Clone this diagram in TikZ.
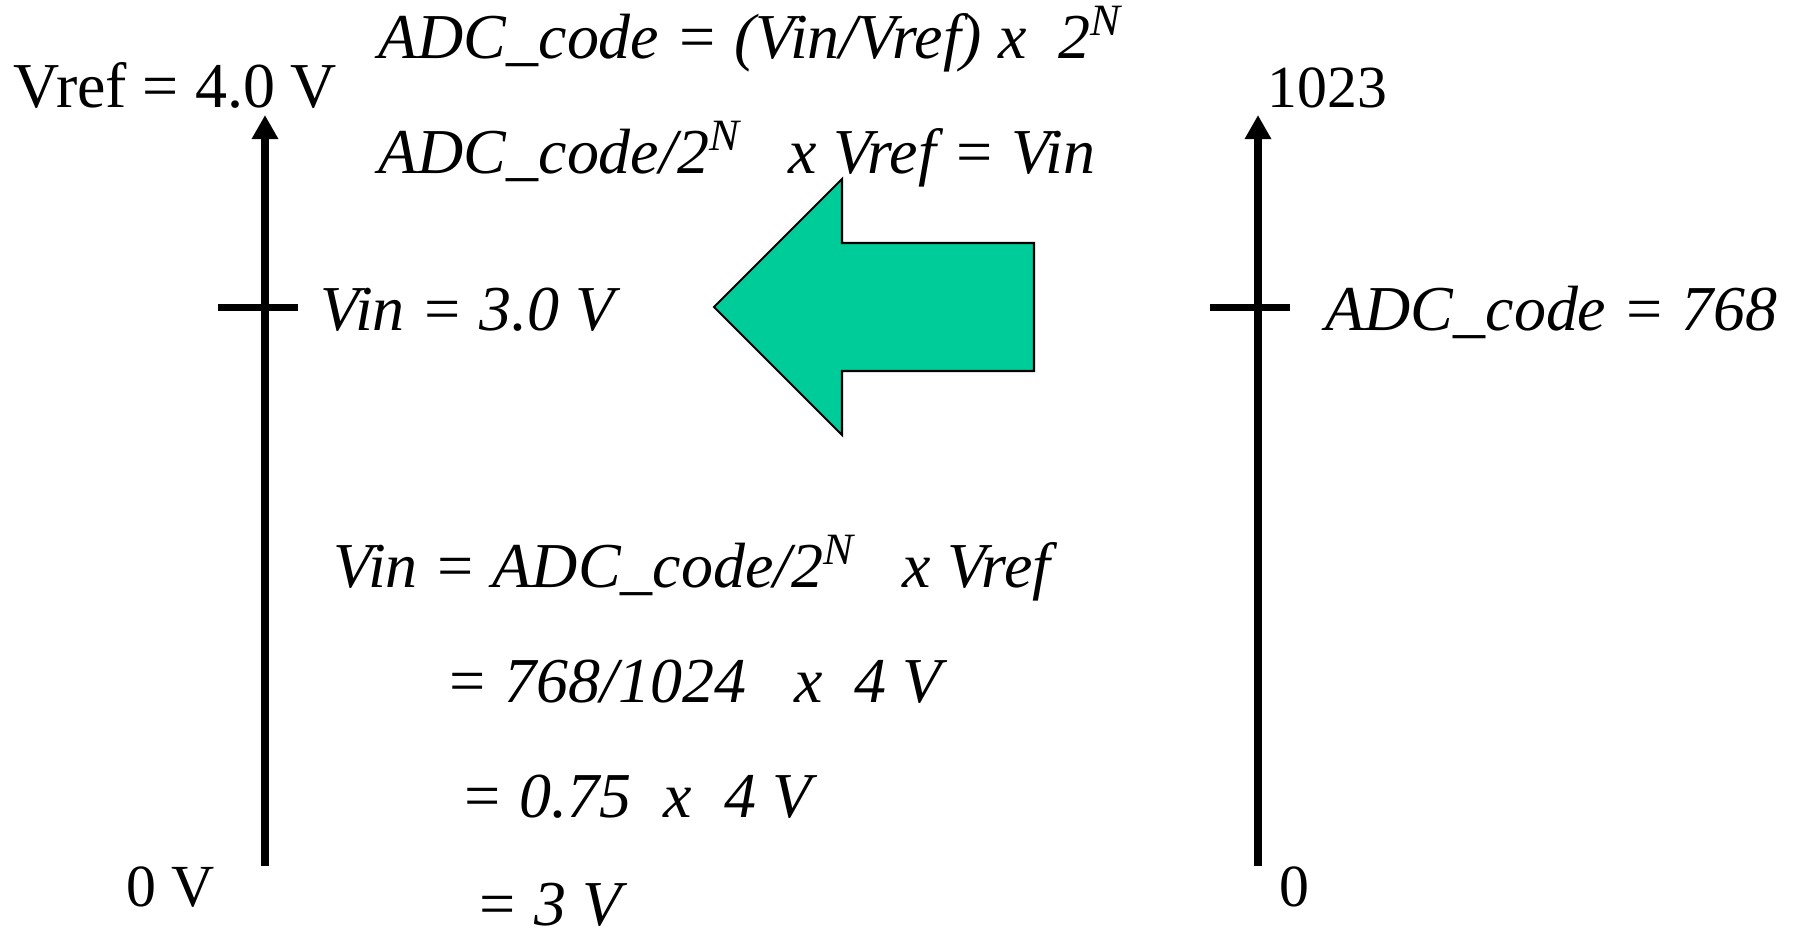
\documentclass[tikz,border=0pt]{standalone}
\usepackage{fontspec}
\setmainfont{Liberation Serif}
\usepackage{tikz}
\usetikzlibrary{arrows.meta, positioning}
\definecolor{arrowGreen}{RGB}{0, 204, 153}

\begin{document}
\begin{tikzpicture}[
    axisline/.style={
        line width=2.3pt,
        -{Triangle[length=0.24cm, width=0.25cm]}
    },
    tickmark/.style={
        line width=2.1pt
    },
    lbl/.style={
        anchor=base west,
        inner sep=0pt,
        font=\fontsize{17}{20}\selectfont
    },
    eqn/.style={
        anchor=base west,
        inner sep=0pt,
        font=\fontsize{18.2}{22}\selectfont\itshape
    },
    bigarrow/.style={
        draw=black,
        line width=0.6pt,
        fill=arrowGreen
    }
]
\useasboundingbox (0,0) rectangle (17.94,9.34);

% Axes
\coordinate (vbot) at (2.65,0.68);
\coordinate (vtop) at (2.65,8.19);
\coordinate (cbot) at (12.58,0.68);
\coordinate (ctop) at (12.58,8.19);
\draw[axisline] (vbot) -- (vtop);
\draw[axisline] (cbot) -- (ctop);

% Ticks
\coordinate (vtickl) at (2.18,6.265);
\coordinate (vtickr) at (2.98,6.265);
\coordinate (ctickl) at (12.10,6.265);
\coordinate (ctickr) at (12.90,6.265);
\draw[tickmark] (vtickl) -- (vtickr);
\draw[tickmark] (ctickl) -- (ctickr);

% Axis labels
\node[lbl, font=\fontsize{18.2}{22}\selectfont] (vref) at (0.13,8.27) {Vref = 4.0 V};
\node[lbl] (vzero) at (1.26,0.28) {0 V};
\node[lbl] (cmax) at (12.67,8.27) {1023};
\node[lbl] (czero) at (12.79,0.28) {0};

% Tick labels
\node[eqn] (vin) at (3.20,6.04) {Vin = 3.0 V};
\node[eqn] (code) at (13.25,6.04) {ADC\_code = 768};

% Formulas at the top
\node[eqn] (f1) at (3.78,8.76) {ADC\_code = (Vin/Vref) x~~2\textsuperscript{N}};
\node[eqn] (f2) at (3.78,7.61) {ADC\_code/2\textsuperscript{N}~~~x Vref = Vin};

% Worked example
\node[eqn] (w1) at (3.33,3.47) {Vin = ADC\_code/2\textsuperscript{N}~~~x Vref};
\node[eqn] (w2) at (4.45,2.32) {= 768/1024~~~x~~4 V};
\node[eqn] (w3) at (4.60,1.17) {= 0.75~~x~~4 V};
\node[eqn] (w4) at (4.75,0.09) {= 3 V};

% Block arrow from code to voltage
\draw[bigarrow] (7.14,6.27) -- (8.42,7.55) -- (8.42,6.91) -- (10.34,6.91)
    -- (10.34,5.63) -- (8.42,5.63) -- (8.42,4.99) -- cycle;

\end{tikzpicture}
\end{document}
